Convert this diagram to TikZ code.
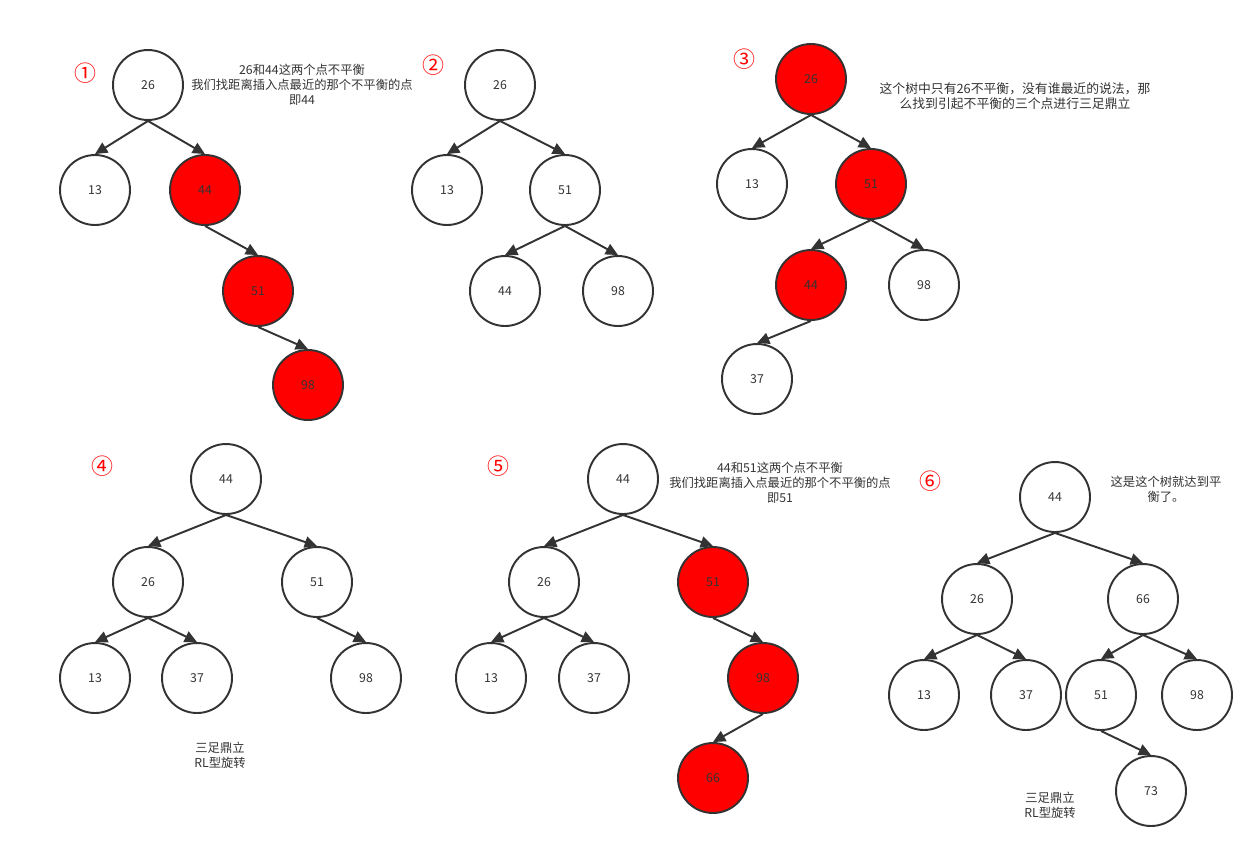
\documentclass[tikz,border=0pt]{standalone}
\usepackage{fontspec}
\setmainfont{Noto Sans CJK SC}
\usetikzlibrary{arrows.meta}
\definecolor{ink}{HTML}{333333}
\definecolor{hot}{HTML}{FF0000}
\tikzset{
  key/.style={circle,draw=ink,line width=1.1pt,minimum size=1.4cm,inner sep=0pt,
    text=ink,font=\fontsize{7}{8}\selectfont},
  redkey/.style={key,fill=hot},
  note/.style={align=center,text=ink,font=\fontsize{7}{8.6}\selectfont},
  tag/.style={text=hot,font=\fontsize{12.5}{12.5}\selectfont},
  link/.style={draw=ink,line width=1.1pt,-{Triangle[length=7pt,width=6.5pt]}}
}
\begin{document}
\begin{tikzpicture}[x=0.02cm,y=-0.02cm]
      \useasboundingbox (0,0) rectangle (1257,850);
      % tree 1
      \node[tag] (tag1) at (85,73) {①};
      \node[key] (a26) at (148,85) {26};
      \node[key] (a13) at (95,190) {13};
      \node[redkey] (a44) at (205,190) {44};
      \node[redkey] (a51) at (258,291) {51};
      \node[redkey] (a98) at (308,385) {98};
      \node[note] (nota) at (302,85) {26和44这两个点不平衡\\我们找距离插入点最近的那个不平衡的点\\即44};
      % tree 2
      \node[tag] (tag2) at (433,65) {②};
      \node[key] (b26) at (500,85) {26};
      \node[key] (b13) at (447,190) {13};
      \node[key] (b51) at (565,190) {51};
      \node[key] (b44) at (505,291) {44};
      \node[key] (b98) at (618,291) {98};
      % tree 3
      \node[tag] (tag3) at (744,59) {③};
      \node[redkey] (c26) at (811,79) {26};
      \node[key] (c13) at (752,184) {13};
      \node[redkey] (c51) at (871,184) {51};
      \node[redkey] (c44) at (811,285) {44};
      \node[key] (c98) at (924,285) {98};
      \node[key] (c37) at (757,379) {37};
      \node[note,font=\fontsize{7.3}{8.6}\selectfont] (notc) at (1015,96) {这个树中只有26不平衡，没有谁最近的说法，那\\么找到引起不平衡的三个点进行三足鼎立};
      % tree 4
      \node[tag] (tag4) at (102,466) {④};
      \node[key] (d44) at (226,479) {44};
      \node[key] (d26) at (148,582) {26};
      \node[key] (d51) at (317,582) {51};
      \node[key] (d13) at (95,678) {13};
      \node[key] (d37) at (197,678) {37};
      \node[key] (d98) at (366,678) {98};
      \node[note] (notd) at (220,755) {三足鼎立\\RL型旋转};
      % tree 5
      \node[tag] (tag5) at (498,466) {⑤};
      \node[key] (e44) at (623,479) {44};
      \node[key] (e26) at (544,582) {26};
      \node[redkey] (e51) at (713,582) {51};
      \node[key] (e13) at (491,678) {13};
      \node[key] (e37) at (594,678) {37};
      \node[redkey] (e98) at (763,678) {98};
      \node[redkey] (e66) at (713,778) {66};
      \node[note] (note) at (780,483) {44和51这两个点不平衡\\我们找距离插入点最近的那个不平衡的点\\即51};
      % tree 6
      \node[tag] (tag6) at (930,481) {⑥};
      \node[key] (f44) at (1055,497) {44};
      \node[key] (f26) at (977,599) {26};
      \node[key] (f66) at (1143,599) {66};
      \node[key] (f13) at (924,695) {13};
      \node[key] (f37) at (1026,695) {37};
      \node[key] (f51) at (1101,695) {51};
      \node[key] (f98) at (1197,695) {98};
      \node[key] (f73) at (1151,791) {73};
      \node[note] (notf1) at (1166,489) {这是这个树就达到平\\衡了。};
      \node[note] (notf2) at (1050,805) {三足鼎立\\RL型旋转};
      \begin{scope}[link]
        \draw (a26.south) to (a13.north);
        \draw (a26.south) to (a44.north);
        \draw (a44.south) to (a51.north);
        \draw (a51.south) to (a98.north);
        \draw (b26.south) to (b13.north);
        \draw (b26.south) to (b51.north);
        \draw (b51.south) to (b44.north);
        \draw (b51.south) to (b98.north);
        \draw (c26.south) to (c13.north);
        \draw (c26.south) to (c51.north);
        \draw (c51.south) to (c44.north);
        \draw (c51.south) to (c98.north);
        \draw (c44.south) to (c37.north);
        \draw (d44.south) to (d26.north);
        \draw (d44.south) to (d51.north);
        \draw (d26.south) to (d13.north);
        \draw (d26.south) to (d37.north);
        \draw (d51.south) to (d98.north);
        \draw (e44.south) to (e26.north);
        \draw (e44.south) to (e51.north);
        \draw (e26.south) to (e13.north);
        \draw (e26.south) to (e37.north);
        \draw (e51.south) to (e98.north);
        \draw (e98.south) to (e66.north);
        \draw (f44.south) to (f26.north);
        \draw (f44.south) to (f66.north);
        \draw (f26.south) to (f13.north);
        \draw (f26.south) to (f37.north);
        \draw (f66.south) to (f51.north);
        \draw (f66.south) to (f98.north);
        \draw (f51.south) to (f73.north);
      \end{scope}
    \end{tikzpicture}
\end{document}
